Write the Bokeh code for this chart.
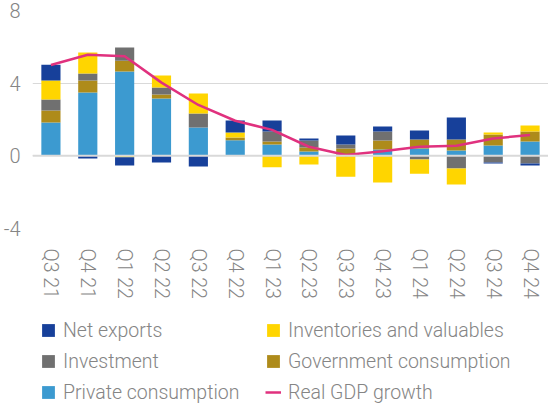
import numpy as np
from bokeh.plotting import figure
from bokeh.layouts import column
from bokeh.models import FactorRange, Range1d, FixedTicker, Legend, LegendItem, Span
from bokeh.embed import file_html
from bokeh.resources import INLINE

quarters = ["Q3 21", "Q4 21", "Q1 22", "Q2 22", "Q3 22", "Q4 22", "Q1 23",
            "Q2 23", "Q3 23", "Q4 23", "Q1 24", "Q2 24", "Q3 24", "Q4 24"]
private_consumption = [1.83, 3.48, 4.64, 3.15, 1.56, 0.86, 0.62, 0.24, 0.07, 0.35, 0.40, 0.29, 0.57, 0.79]
government_consumption = [0.66, 0.66, 0.60, 0.22, 0.00, 0.15, 0.17, 0.22, 0.33, 0.49, 0.50, 0.61, 0.60, 0.55]
investment = [0.61, 0.39, 0.72, 0.39, 0.77, 0.00, 0.55, 0.38, 0.22, 0.50, -0.20, -0.70, -0.37, -0.42]
inventories = [1.04, 1.16, -0.08, 0.66, 1.10, 0.28, -0.63, -0.48, -1.15, -1.47, -0.78, -0.88, 0.11, 0.33]
net_exports = [0.88, -0.15, -0.45, -0.37, -0.59, 0.66, 0.60, 0.11, 0.50, 0.27, 0.49, 1.21, -0.05, -0.11]
gdp_growth = [5.00, 5.56, 5.48, 4.03, 2.80, 1.93, 1.43, 0.50, 0.05, 0.25, 0.50, 0.55, 0.95, 1.15]
y_ticks = [-4, 0, 4, 8]
y_tick_labels = {-4: "-4", 0: "0", 4: "4", 8: "8"}

series = [
    ("Private consumption", private_consumption, "#3C9AD0"),
    ("Government consumption", government_consumption, "#AE8B1A"),
    ("Investment", investment, "#707070"),
    ("Inventories and valuables", inventories, "#FFD500"),
    ("Net exports", net_exports, "#17409A"),
]
legend_order = ["Net exports", "Investment", "Private consumption",
                "Inventories and valuables", "Government consumption", "Real GDP growth"]
GDP_COLOR = "#E0317E"
FONT = "Roboto Light, Roboto"
TXT = "#858585"

p = figure(frame_width=516, frame_height=218, x_range=FactorRange(*quarters, range_padding=0),
           y_range=Range1d(-4, 8), output_backend="svg", toolbar_location=None,
           min_border_top=10, min_border_right=0, min_border_left=0, min_border_bottom=77)
p.outline_line_color = None
p.xgrid.grid_line_color = None
p.ygrid.grid_line_color = "#D9D9D9"
p.ygrid.grid_line_width = 1
p.yaxis.ticker = FixedTicker(ticks=y_ticks)
p.yaxis.major_label_overrides = y_tick_labels

for ax in (p.xaxis[0], p.yaxis[0]):
    ax.axis_line_color = None
    ax.major_tick_line_color = None
    ax.minor_tick_line_color = None
    ax.major_tick_in = 0
    ax.major_tick_out = 0
    ax.minor_tick_out = 0
    ax.major_label_text_font = FONT
    ax.major_label_text_color = TXT
p.yaxis.major_label_text_font_size = "20px"
p.yaxis.major_label_standoff = 12
p.xaxis.major_label_text_font_size = "19.5px"
p.xaxis.major_label_orientation = "vertical"
p.xaxis.major_label_standoff = 20

pos = np.zeros(len(quarters))
neg = np.zeros(len(quarters))
stacks = {}
for name, vals, color in series:
    v = np.array(vals, dtype=float)
    bottom = np.where(v >= 0, pos, neg)
    top = bottom + v
    pos = np.where(v >= 0, top, pos)
    neg = np.where(v < 0, top, neg)
    stacks[name] = (bottom, top)
    p.vbar(x=quarters, bottom=bottom, top=top, width=0.52, fill_color=color, line_color=None)

zero = Span(location=0, dimension="width", line_color="#D9D9D9", line_width=2, level="overlay")
p.add_layout(zero)
gdp_r = p.line(x=quarters, y=gdp_growth, line_color=GDP_COLOR, line_width=2.5)
gdp_r.level = "overlay"

# legend panel: a separate plot whose view range shows none of the data,
# so only the legend is visible (a legend inside the main frame is clipped)
lp = figure(width=545, height=98, output_backend="svg", toolbar_location=None,
            x_axis_type=None, y_axis_type=None, min_border=0,
            x_range=FactorRange(*quarters), y_range=Range1d(100, 101))
lp.outline_line_color = None
lp.grid.grid_line_color = None
legend_renderers = {}
for name, vals, color in series:
    b, t = stacks[name]
    legend_renderers[name] = lp.vbar(x=quarters, bottom=b, top=t, width=0.52,
                                     fill_color=color, line_color=None)
legend_renderers["Real GDP growth"] = lp.line(x=quarters, y=gdp_growth, line_color=GDP_COLOR, line_width=2.5)

items = [LegendItem(label=n, renderers=[legend_renderers[n]]) for n in legend_order]
legend = Legend(items=items, orientation="vertical", nrows=3, location=(8, -1),
                border_line_color=None, background_fill_alpha=0,
                label_text_font=FONT, label_text_color=TXT, label_text_font_size="19.5px",
                glyph_width=16, glyph_height=16, label_standoff=7, spacing=7,
                label_height=24, label_width=195, padding=0, margin=0)
lp.add_layout(legend, "center")

layout = column(p, lp, spacing=0)
open("out.html", "w").write(file_html(layout, INLINE))
